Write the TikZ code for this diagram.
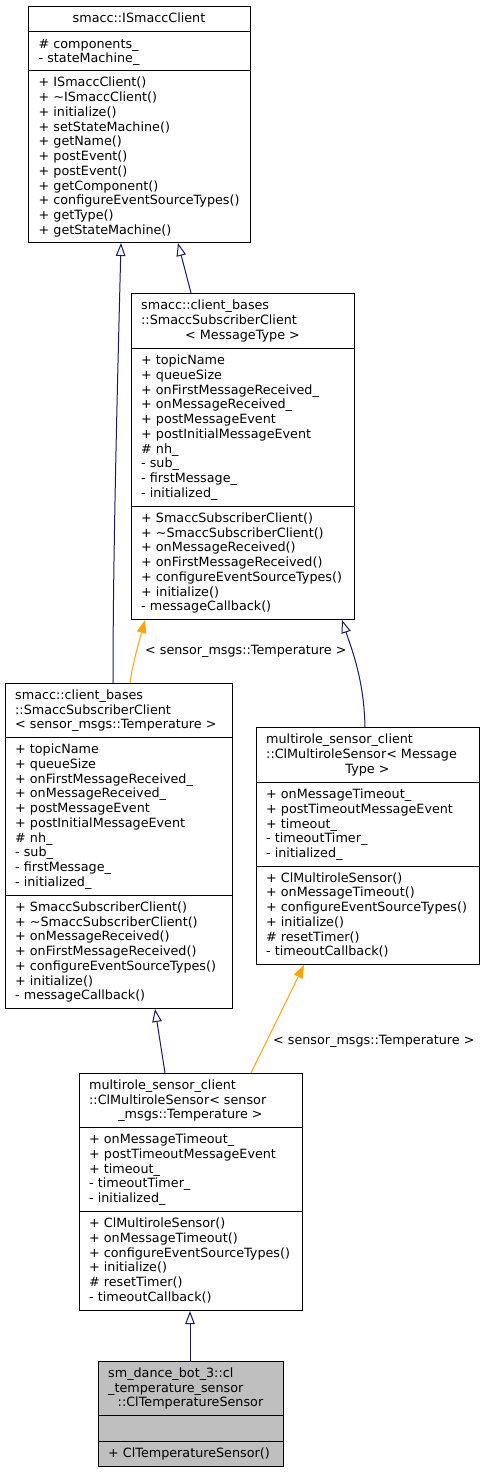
\documentclass[tikz,border=0pt]{standalone}
\usepackage{fontspec}
\setmainfont{DejaVu Sans}
\usetikzlibrary{arrows.meta}
\definecolor{navy}{HTML}{191970}
\definecolor{dorange}{HTML}{FFA500}
\definecolor{boxgray}{HTML}{BFBFBF}
\tikzset{
  txt/.style={inner sep=0pt, font=\fontsize{12.75}{14.75}\selectfont},
  umlbox/.style={draw=black, line width=1pt, anchor=north west, inner sep=0pt},
  divider/.style={draw=black, line width=1pt},
  inh/.style={draw=navy, line width=1pt, -{Triangle[open,length=13pt,width=9.5pt]}},
  tmpl/.style={draw=dorange, line width=1pt, -{Triangle[length=13pt,width=9.5pt]}}
}
\newcommand\umllines[4]{%
  \foreach \mytext [count=\k from 0] in {#4} {%
    \node[txt, anchor=base west] (#1-\k) at (#2,{#3+\k*14.75}) {\mytext};}}
\begin{document}
\begin{tikzpicture}[x=1pt,y=-1pt]
\fill[white] (0,0) rectangle (485,1472);
\useasboundingbox (0,0) rectangle (485,1472);

% ---------- box 1
\node[umlbox, minimum width=222pt, minimum height=236pt] (b1) at (28,6) {};
\draw[divider] (28,32) -- (250,32);
\draw[divider] (28,71) -- (250,71);
\node[txt, anchor=base] (b1t) at (139,23) {smacc::ISmaccClient};
\umllines{b1a}{38.5}{48.1}{\# components\_, - stateMachine\_}
\umllines{b1m}{38.5}{86.75}{+ ISmaccClient(), + \textasciitilde ISmaccClient(), + initialize(), + setStateMachine(), + getName(), + postEvent(), + postEvent(), + getComponent(), + configureEventSourceTypes(), + getType(), + getStateMachine()}

% ---------- box 2
\node[umlbox, minimum width=223pt, minimum height=326pt] (b2) at (131,293) {};
\draw[divider] (131,348) -- (354,348);
\draw[divider] (131,506) -- (354,506);
\umllines{b2t}{141}{309.75}{smacc::client\_bases, ::SmaccSubscriberClient}
\node[txt, anchor=base] (b2tc) at (242.5,339.25) {< MessageType >};
\umllines{b2a}{141}{364.6}{+ topicName, + queueSize, + onFirstMessageReceived\_, + onMessageReceived\_, + postMessageEvent, + postInitialMessageEvent, \# nh\_, - sub\_, - firstMessage\_, - initialized\_}
\umllines{b2m}{141}{522.25}{+ SmaccSubscriberClient(), + \textasciitilde SmaccSubscriberClient(), + onMessageReceived(), + onFirstMessageReceived(), + configureEventSourceTypes(), + initialize(), - messageCallback()}

% ---------- box 3
\node[umlbox, minimum width=227pt, minimum height=325pt] (b3) at (5,683) {};
\draw[divider] (5,737) -- (232,737);
\draw[divider] (5,895) -- (232,895);
\umllines{b3t}{15}{699.25}{smacc::client\_bases, ::SmaccSubscriberClient, < sensor\_msgs::Temperature >}
\umllines{b3a}{15}{753.6}{+ topicName, + queueSize, + onFirstMessageReceived\_, + onMessageReceived\_, + postMessageEvent, + postInitialMessageEvent, \# nh\_, - sub\_, - firstMessage\_, - initialized\_}
\umllines{b3m}{15}{911.25}{+ SmaccSubscriberClient(), + \textasciitilde SmaccSubscriberClient(), + onMessageReceived(), + onFirstMessageReceived(), + configureEventSourceTypes(), + initialize(), - messageCallback()}

% ---------- box 4
\node[umlbox, minimum width=223pt, minimum height=237pt] (b4) at (256,727) {};
\draw[divider] (256,782) -- (479,782);
\draw[divider] (256,866) -- (479,866);
\umllines{b4t}{266}{743.75}{multirole\_sensor\_client, ::ClMultiroleSensor< Message}
\node[txt, anchor=base] (b4tc) at (367.5,773.25) {Type >};
\umllines{b4a}{266}{798.5}{+ onMessageTimeout\_, + postTimeoutMessageEvent, + timeout\_, - timeoutTimer\_, - initialized\_}
\umllines{b4m}{266}{882.1}{+ ClMultiroleSensor(), + onMessageTimeout(), + configureEventSourceTypes(), + initialize(), \# resetTimer(), - timeoutCallback()}

% ---------- box 5
\node[umlbox, minimum width=223pt, minimum height=237pt] (b5) at (79,1073) {};
\draw[divider] (79,1127) -- (302,1127);
\draw[divider] (79,1211) -- (302,1211);
\umllines{b5t}{89}{1089.25}{multirole\_sensor\_client, ::ClMultiroleSensor< sensor}
\node[txt, anchor=base] (b5tc) at (190.5,1118.75) {\_msgs::Temperature >};
\umllines{b5a}{89}{1143.5}{+ onMessageTimeout\_, + postTimeoutMessageEvent, + timeout\_, - timeoutTimer\_, - initialized\_}
\umllines{b5m}{89}{1227.6}{+ ClMultiroleSensor(), + onMessageTimeout(), + configureEventSourceTypes(), + initialize(), \# resetTimer(), - timeoutCallback()}

% ---------- box 6
\node[umlbox, fill=boxgray, minimum width=185pt, minimum height=105pt] (b6) at (98,1361) {};
\draw[divider] (98,1415) -- (283,1415);
\draw[divider] (98,1441) -- (283,1441);
\umllines{b6t}{108}{1377.25}{sm\_dance\_bot\_3::cl, \_temperature\_sensor}
\node[txt, anchor=base] (b6tc) at (190.5,1406.75) {::ClTemperatureSensor};
\umllines{b6m}{108}{1457.5}{+ ClTemperatureSensor()}

% ---------- edges
\draw[inh] ([xshift=108pt]b3.north west) .. controls (113,560) and (117,400) .. ([xshift=93pt]b1.south west);
\draw[inh] ([xshift=60pt]b2.north west) -- ([xshift=150pt]b1.south west);
\draw[tmpl] ([xshift=125pt]b3.north west) .. controls (133,662) and (139,642) .. ([xshift=14pt]b2.south west);
\draw[inh] ([xshift=109pt]b4.north west) .. controls (364,680) and (352,650) .. ([xshift=211pt]b2.south west);
\draw[inh] ([xshift=86pt]b5.north west) -- ([xshift=150pt]b3.south west);
\draw[tmpl] ([xshift=172pt]b5.north west) -- ([xshift=48pt]b4.south west);
\draw[inh] ([xshift=92pt]b6.north west) -- ([xshift=111pt]b5.south west);

\node[txt, anchor=base west] (l1) at (145,654.5) {< sensor\_msgs::Temperature >};
\node[txt, anchor=base west] (l2) at (273,1044.5) {< sensor\_msgs::Temperature >};
\end{tikzpicture}
\end{document}
